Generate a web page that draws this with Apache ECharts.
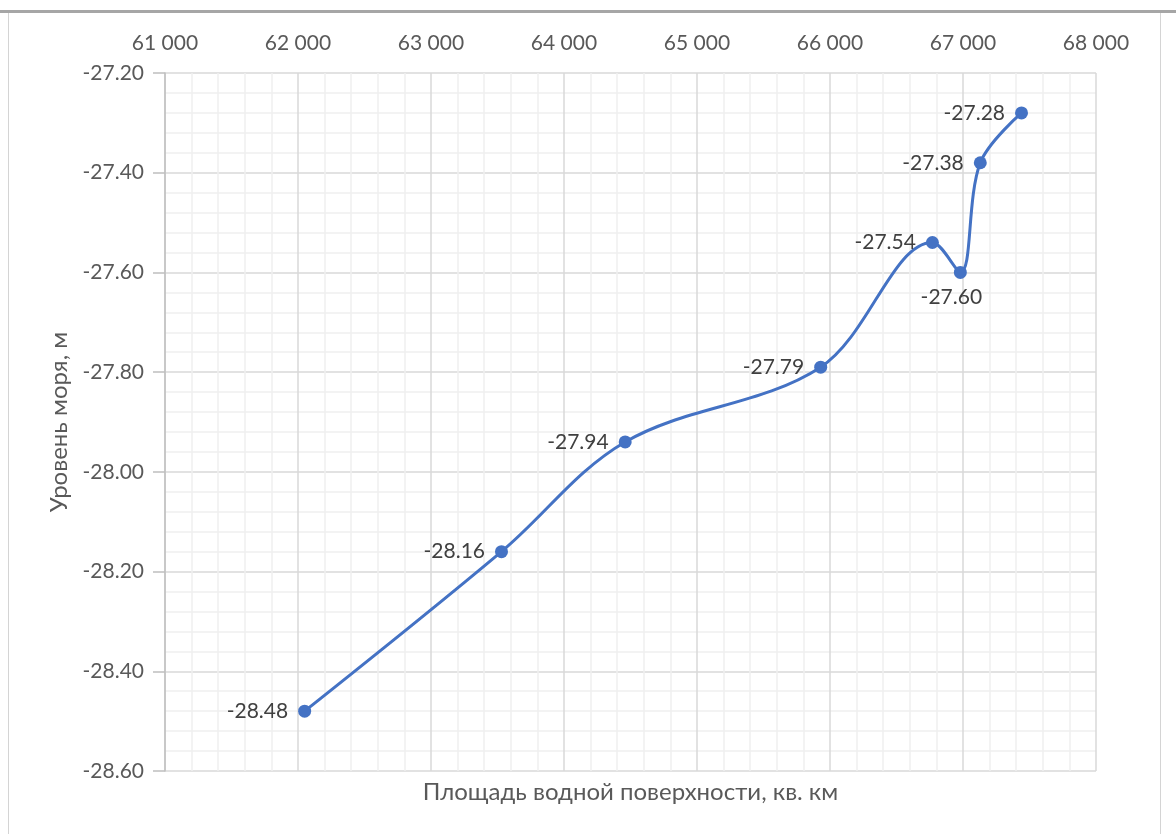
<!DOCTYPE html>
<html>
<head>
<meta charset="utf-8">
<style>
  html, body { margin: 0; padding: 0; background: #ffffff; }
  #chart { width: 1176px; height: 834px; }
</style>
<script src="https://cdn.jsdelivr.net/npm/echarts@6/dist/echarts.min.js"></script>
</head>
<body>
<div id="chart"></div>
<script>
// Water surface area (sq. km) vs sea level (m)
const areaKm2 = [62050, 63530, 64460, 65930, 66770, 66980, 67130, 67440];
const seaLevel = [-28.48, -28.16, -27.94, -27.79, -27.54, -27.60, -27.38, -27.28];

const xTitle = 'Площадь водной поверхности, кв. км';
const yTitle = 'Уровень моря, м';

const FONT = 'Lato, "Open Sans", sans-serif';
const TEXT = '#595959';

function groupThousands(v) {
  return String(Math.round(v)).replace(/\B(?=(\d{3})+(?!\d))/g, ' ');
}

// label placement per point (the dip point gets its label underneath)
function labelFor(i) {
  if (i === 5) return { position: 'bottom', distance: 8, offset: [-9, 0] };
  return { position: 'left', distance: 10 };
}

const points = areaKm2.map((x, i) => ({
  value: [x, seaLevel[i]],
  label: labelFor(i)
}));

const chart = echarts.init(document.getElementById('chart'), null, { renderer: 'canvas' });

chart.setOption({
  backgroundColor: '#ffffff',
  animation: false,
  graphic: [
    { type: 'rect', shape: { x: 0, y: 10, width: 1176, height: 3 }, style: { fill: '#a6a6a6' }, silent: true },
    { type: 'rect', shape: { x: 8, y: 13, width: 1, height: 821 }, style: { fill: '#d4d4d4' }, silent: true },
    { type: 'rect', shape: { x: 1160, y: 13, width: 1, height: 821 }, style: { fill: '#d4d4d4' }, silent: true }
  ],
  grid: { left: 165, right: 80, top: 73, bottom: 63, containLabel: false },
  xAxis: [
    {
      type: 'value',
      position: 'top',
      min: 61000,
      max: 68000,
      interval: 1000,
      axisLine: { show: false },
      axisTick: { show: false },
      axisLabel: {
        color: TEXT, fontFamily: FONT, fontSize: 21, margin: 19,
        formatter: groupThousands
      },
      splitLine: { show: true, lineStyle: { color: '#d9d9d9', width: 1.5 } },
      minorTick: { show: false, splitNumber: 5 },
      minorSplitLine: { show: true, lineStyle: { color: '#efefef', width: 1.5 } }
    },
    {
      type: 'value',
      position: 'bottom',
      min: 61000,
      max: 68000,
      interval: 1000,
      axisLine: { show: false },
      axisTick: { show: false },
      axisLabel: { show: false },
      splitLine: { show: false },
      name: xTitle,
      nameLocation: 'middle',
      nameGap: 9,
      nameTextStyle: { color: TEXT, fontFamily: FONT, fontSize: 24, verticalAlign: 'top' }
    }
  ],
  yAxis: {
    type: 'value',
    min: -28.6,
    max: -27.2,
    interval: 0.2,
    axisLine: { show: true, lineStyle: { color: '#bfbfbf', width: 1.5 } },
    axisTick: { show: true, inside: false, length: 12, lineStyle: { color: '#bfbfbf', width: 1.5 } },
    axisLabel: {
      color: TEXT, fontFamily: FONT, fontSize: 21, margin: 21,
      formatter: v => v.toFixed(2)
    },
    splitLine: { show: true, lineStyle: { color: '#d9d9d9', width: 1.5 } },
    minorTick: { show: false, splitNumber: 5 },
    minorSplitLine: { show: true, lineStyle: { color: '#efefef', width: 1.5 } },
    name: yTitle,
    nameLocation: 'middle',
    nameRotate: 90,
    nameGap: 94,
    nameTextStyle: { color: TEXT, fontFamily: FONT, fontSize: 24 }
  },
  series: [
    {
      type: 'line',
      xAxisIndex: 0,
      data: points,
      smooth: 0.35,
      lineStyle: { color: '#4472C4', width: 3 },
      itemStyle: { color: '#4472C4' },
      symbol: 'circle',
      symbolSize: 13,
      label: {
        show: true,
        color: '#404040',
        fontFamily: FONT,
        fontSize: 21,
        formatter: p => p.value[1].toFixed(2)
      }
    }
  ]
});
</script>
</body>
</html>
